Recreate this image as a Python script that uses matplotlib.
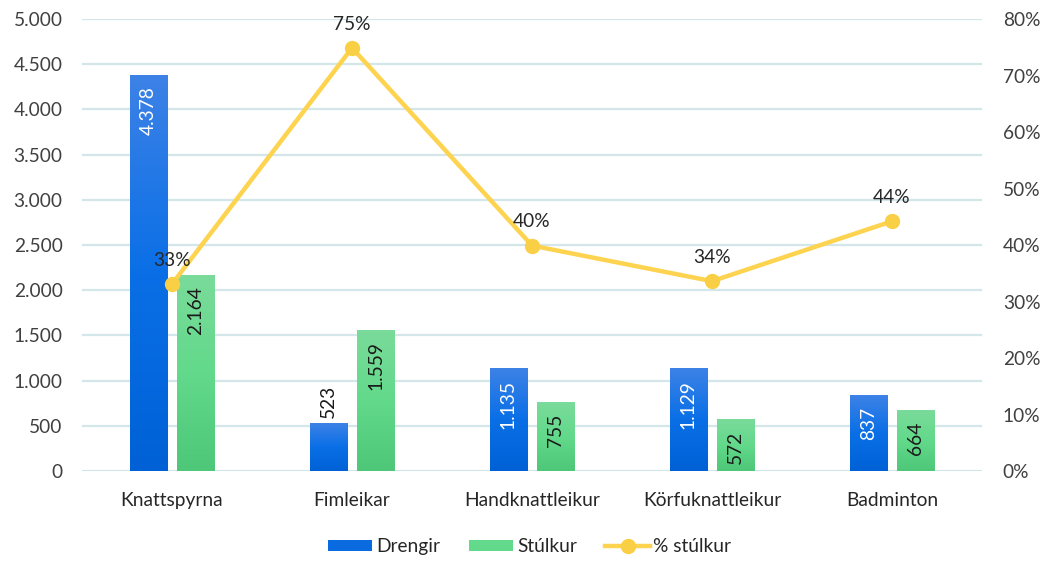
import numpy as np
import matplotlib
matplotlib.use("Agg")
import matplotlib.pyplot as plt
from matplotlib.colors import LinearSegmentedColormap
from matplotlib.patches import Patch
from matplotlib.lines import Line2D
from matplotlib.ticker import FuncFormatter, MultipleLocator

categories = ["Knattspyrna", "Fimleikar", "Handknattleikur", "Körfuknattleikur", "Badminton"]
drengir = [4378, 523, 1135, 1129, 837]
stulkur = [2164, 1559, 755, 572, 664]
pct_stulkur = [0.331, 0.749, 0.399, 0.336, 0.442]
pct_labels = ["33%", "75%", "40%", "34%", "44%"]
series_names = ["Drengir", "Stúlkur", "% stúlkur"]

plt.rcParams['font.family'] = ['Lato', 'DejaVu Sans']
FS = 13.8

fig = plt.figure(figsize=(10.45, 5.61), dpi=100)
ax = fig.add_axes([0.0785, 0.1604, 0.8612, 0.8057])
ax2 = ax.twinx()

x = np.arange(len(categories))
w = 0.206
off = 0.132

blue_cmap = LinearSegmentedColormap.from_list("b", ["#0061d6", "#0a6fe6", "#3d82e6"])
green_cmap = LinearSegmentedColormap.from_list("g", ["#4ec779", "#62d98b", "#7adb9a"])

def fmt_thousands(v):
    return f"{int(round(v)):,}".replace(",", ".")

ax.set_xlim(-0.5, len(categories) - 0.5)
ax.set_ylim(0, 5000)

grad = np.linspace(0, 1, 256).reshape(-1, 1)
for vals, dx, cmap in [(drengir, -off, blue_cmap), (stulkur, off, green_cmap)]:
    bars = ax.bar(x + dx, vals, width=w, color="none", edgecolor="none", zorder=2)
    for b in bars:
        x0, y0 = b.get_x(), b.get_y()
        ax.imshow(grad, extent=[x0, x0 + b.get_width(), y0, y0 + b.get_height()],
                  aspect="auto", cmap=cmap, origin="lower", zorder=2, interpolation="bilinear")

ax.set_xlim(-0.5, len(categories) - 0.5)
ax.set_ylim(0, 5000)

# bar labels
for i, v in enumerate(drengir):
    if v > 800:
        ax.annotate(fmt_thousands(v), (x[i] - off, v), xytext=(0, -8), textcoords="offset points",
                    rotation=90, ha="center", va="top", color="white", fontsize=FS, zorder=5)
    else:
        ax.annotate(fmt_thousands(v), (x[i] - off, v), xytext=(0, 4), textcoords="offset points",
                    rotation=90, ha="center", va="bottom", color="#1a1a1a", fontsize=FS, zorder=5)
for i, v in enumerate(stulkur):
    ax.annotate(fmt_thousands(v), (x[i] + off, v), xytext=(0, -8), textcoords="offset points",
                rotation=90, ha="center", va="top", color="#1a1a1a", fontsize=FS, zorder=5)

# grid
ax.yaxis.set_major_locator(MultipleLocator(500))
ax.yaxis.set_major_formatter(FuncFormatter(lambda v, p: fmt_thousands(v)))
ax.grid(axis="y", color="#d3e6ea", linewidth=1.6, zorder=0)
ax.set_axisbelow(True)
for s in ax.spines.values():
    s.set_visible(False)
for s in ax2.spines.values():
    s.set_visible(False)
ax.tick_params(axis="y", length=0, pad=14, labelsize=FS, labelcolor="#404040")
ax.set_xticks(x)
ax.set_xticklabels(categories)
ax.tick_params(axis="x", length=0, pad=15, labelsize=FS, labelcolor="#262626")

# line
ax2.set_ylim(0, 0.8)
ax2.yaxis.set_major_locator(MultipleLocator(0.1))
ax2.yaxis.set_major_formatter(FuncFormatter(lambda v, p: f"{int(round(v*100))}%"))
ax2.tick_params(axis="y", length=0, pad=15, labelsize=FS, labelcolor="#404040")
line_color = "#fdd34f"
ax2.plot(x, pct_stulkur, color=line_color, linewidth=3.2, marker="o", markersize=10,
         markerfacecolor="#f9cf45", markeredgecolor="#f9cf45", zorder=4)
for i, v in enumerate(pct_stulkur):
    ax2.annotate(pct_labels[i], (x[i], v), xytext=(0, 11), textcoords="offset points",
                 ha="center", va="bottom", color="#262626", fontsize=FS, zorder=6)

handles = [Patch(facecolor="#0a6be0", edgecolor="none"),
           Patch(facecolor="#62d98b", edgecolor="none"),
           Line2D([0], [0], color=line_color, linewidth=3.2, marker="o", markersize=10,
                  markerfacecolor="#f9cf45", markeredgecolor="#f9cf45")]
fig.legend(handles, series_names, loc="center", bbox_to_anchor=(0.507, 0.025), ncol=3,
           frameon=False, fontsize=FS, handlelength=2.3, handleheight=0.55,
           columnspacing=1.5, handletextpad=0.2, labelcolor="#262626")

fig.savefig("out.png", dpi=100)
